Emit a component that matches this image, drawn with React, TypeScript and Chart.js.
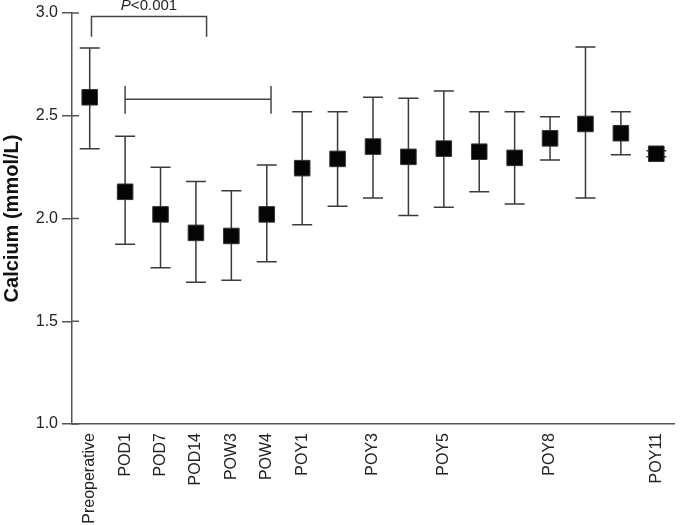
import React, { useEffect, useRef } from "react";
import { Chart, registerables } from "chart.js";

Chart.register(...registerables);

const categories = [
  "Preoperative", "POD1", "POD7", "POD14", "POW3", "POW4", "POY1", "POY2", "POY3",
  "POY4", "POY5", "POY6", "POY7", "POY8", "POY9", "POY10", "POY11",
];
const shownLabels = [
  "Preoperative", "POD1", "POD7", "POD14", "POW3", "POW4", "POY1", "", "POY3",
  "", "POY5", "", "", "POY8", "", "", "POY11",
];
const meanValues = [2.59, 2.13, 2.02, 1.93, 1.915, 2.02, 2.245, 2.29, 2.35, 2.30, 2.34, 2.325, 2.295, 2.39, 2.46, 2.415, 2.315];
const upperValues = [2.83, 2.40, 2.25, 2.18, 2.135, 2.26, 2.52, 2.52, 2.59, 2.585, 2.62, 2.52, 2.52, 2.495, 2.835, 2.52, 2.33];
const lowerValues = [2.34, 1.875, 1.76, 1.69, 1.70, 1.79, 1.97, 2.06, 2.10, 2.015, 2.055, 2.13, 2.07, 2.285, 2.10, 2.31, 2.30];
const yTicks = [1.0, 1.5, 2.0, 2.5, 3.0];
const pLabel = ["P", "<0.001"];

const FONT = "'Liberation Sans', Arial, sans-serif";

const errorBarPlugin = {
  id: "errorBars",
  beforeDatasetsDraw(chart: any) {
    const { ctx, scales } = chart;
    const x = scales.x, y = scales.y;
    ctx.save();
    ctx.strokeStyle = "#3a3a3a";
    ctx.lineWidth = 1.5;
    for (let i = 0; i < meanValues.length; i++) {
      const px = x.getPixelForValue(i);
      const top = y.getPixelForValue(upperValues[i]);
      const bot = y.getPixelForValue(lowerValues[i]);
      ctx.beginPath();
      ctx.moveTo(px, top); ctx.lineTo(px, bot);
      ctx.moveTo(px - 10, top); ctx.lineTo(px + 10, top);
      ctx.moveTo(px - 10, bot); ctx.lineTo(px + 10, bot);
      ctx.stroke();
    }
    // inner part of y tick marks
    const ax = chart.chartArea.left;
    ctx.strokeStyle = "#555";
    for (const t of yTicks) {
      const py = y.getPixelForValue(t);
      ctx.beginPath();
      ctx.moveTo(ax, py); ctx.lineTo(ax + 7, py);
      ctx.stroke();
    }
    // brackets
    ctx.strokeStyle = "#444";
    const b1l = x.getPixelForValue(0.05), b1r = x.getPixelForValue(3.3);
    const b1y = y.getPixelForValue(2.983), b1b = y.getPixelForValue(2.885);
    ctx.beginPath();
    ctx.moveTo(b1l, b1b); ctx.lineTo(b1l, b1y); ctx.lineTo(b1r, b1y); ctx.lineTo(b1r, b1b);
    ctx.stroke();
    const b2l = x.getPixelForValue(1), b2r = x.getPixelForValue(5.12);
    const b2y = y.getPixelForValue(2.58);
    const b2t = y.getPixelForValue(2.645), b2b = y.getPixelForValue(2.51);
    ctx.beginPath();
    ctx.moveTo(b2l, b2t); ctx.lineTo(b2l, b2b);
    ctx.moveTo(b2r, b2t); ctx.lineTo(b2r, b2b);
    ctx.moveTo(b2l, b2y); ctx.lineTo(b2r, b2y);
    ctx.stroke();
    // P label
    const cx = (b1l + b1r) / 2;
    ctx.fillStyle = "#222";
    ctx.textBaseline = "alphabetic";
    ctx.font = `italic 15px ${FONT}`;
    const w1 = ctx.measureText(pLabel[0]).width;
    ctx.font = `15px ${FONT}`;
    const w2 = ctx.measureText(pLabel[1]).width;
    const sx = cx - (w1 + w2) / 2;
    const by = b1y - 6;
    ctx.font = `italic 15px ${FONT}`;
    ctx.fillText(pLabel[0], sx, by);
    ctx.font = `15px ${FONT}`;
    ctx.fillText(pLabel[1], sx + w1, by);
    ctx.restore();
  },
};

export default function App() {
  const ref = useRef<HTMLCanvasElement>(null);
  useEffect(() => {
    const chart = new Chart(ref.current!, {
      type: "line",
      data: {
        labels: categories,
        datasets: [
          {
            data: meanValues,
            showLine: false,
            pointStyle: "rect",
            pointRadius: 11,
            pointHoverRadius: 11,
            backgroundColor: "#050505",
            borderColor: "#333",
            borderWidth: 1,
          },
        ],
      },
      options: {
        animation: false,
        responsive: false,
        layout: { padding: { top: 13, right: 6, left: 0, bottom: 0 } },
        plugins: { legend: { display: false }, tooltip: { enabled: false } },
        scales: {
          x: {
            type: "category",
            offset: true,
            grid: { display: false, drawTicks: false },
            border: { display: true, color: "#555", width: 1.5 },
            ticks: {
              autoSkip: false,
              maxRotation: 90,
              minRotation: 90,
              padding: 9,
              color: "#222",
              font: { family: FONT, size: 16 },
              callback: (_v: any, i: number) => shownLabels[i],
            },
            afterFit: (s: any) => {
              s.height = 101;
              s.paddingLeft = 0;
              s.paddingRight = 0;
            },
          },
          y: {
            min: 1.0,
            max: 3.0,
            afterBuildTicks: (s: any) => { s.ticks = yTicks.map((v) => ({ value: v })); },
            grid: { drawOnChartArea: false, drawTicks: true, tickLength: 10, color: "#555", lineWidth: 1.5 },
            border: { display: true, color: "#555", width: 1.5 },
            ticks: {
              padding: 4,
              color: "#222",
              font: { family: FONT, size: 16 },
              callback: (v: any) => Number(v).toFixed(1),
            },
            title: {
              display: true,
              text: "Calcium (mmol/L)",
              color: "#111",
              font: { family: FONT, size: 20, weight: "bold" },
              padding: { top: 0, bottom: 0 },
            },
            afterFit: (s: any) => {
              s.width = 72;
              s.paddingTop = 0;
              s.paddingBottom = 0;
            },
          },
        },
      },
      plugins: [errorBarPlugin],
    });
    return () => chart.destroy();
  }, []);
  return (
    <div style={{ position: "fixed", left: 0, top: 0, width: 686, height: 525, background: "#fff" }}>
      <canvas ref={ref} width={686} height={525} style={{ width: 686, height: 525 }} />
    </div>
  );
}
